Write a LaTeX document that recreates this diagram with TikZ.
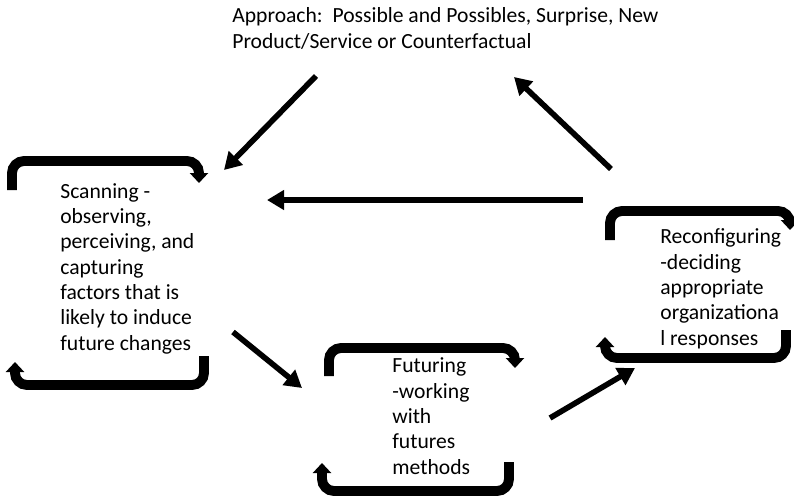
\documentclass[tikz,border=0pt]{standalone}
\usepackage{fontspec}
\setmainfont{Carlito}
\usetikzlibrary{arrows.meta}

\begin{document}
\begin{tikzpicture}[x=0.02cm,y=-0.02cm,
  loopline/.style={line width=5.6pt,rounded corners=0.24cm,-{Triangle[length=2mm,width=3.6mm]}},
  flowarrow/.style={line width=3.2pt,-{Triangle[length=3.4mm,width=3.8mm]}},
  stage/.style={anchor=base west,align=left,inner sep=0pt,font=\fontsize{12.3}{14.4}\selectfont}]

\useasboundingbox (0,0) rectangle (794,498);

% Stage texts (placed at the baseline of their last line)
\node[stage] (approach) at (232,48) {Approach:\ \ Possible and Possibles, Surprise, New\\Product/Service or Counterfactual};
\node[stage] (scan) at (60,350) {Scanning -\\observing,\\perceiving, and\\capturing\\factors that is\\likely to induce\\future changes};
\node[stage] (futur) at (392,474) {Futuring\\-working\\with\\futures\\methods};
\node[stage] (reconf) at (660,345) {Reconfiguring\\-deciding\\appropriate\\organizationa\\l responses};

% Loops round each stage
\draw[loopline] (12,190) -- (12,161) -- (199,161) -- (199,183);
\draw[loopline] (204,356) -- (204,385) -- (15,385) -- (15,362);

\draw[loopline] (329,376) -- (329,348) -- (515,348) -- (515,368);
\draw[loopline] (509,462) -- (509,491) -- (322,491) -- (322,463);

\draw[loopline] (610,240) -- (610,211) -- (790,211) -- (790,230);
\draw[loopline] (786,330) -- (786,358) -- (605,358) -- (605,337);

% Define coordinates
\coordinate (approach-l) at (316,76);
\coordinate (approach-r) at (514,77);
\coordinate (scan-t) at (224,170);
\coordinate (scan-r) at (267,200);
\coordinate (scan-b) at (233,332);
\coordinate (futur-l) at (302,388);
\coordinate (futur-r) at (550,418);
\coordinate (reconf-t) at (611,169);
\coordinate (reconf-l) at (583,200);
\coordinate (reconf-b) at (635,368);

% Flow between stages
\draw[flowarrow] (approach-l) -- (scan-t);
\draw[flowarrow] (reconf-t) -- (approach-r);
\draw[flowarrow] (reconf-l) -- (scan-r);
\draw[flowarrow] (scan-b) -- (futur-l);
\draw[flowarrow] (futur-r) -- (reconf-b);

\end{tikzpicture}
\end{document}
